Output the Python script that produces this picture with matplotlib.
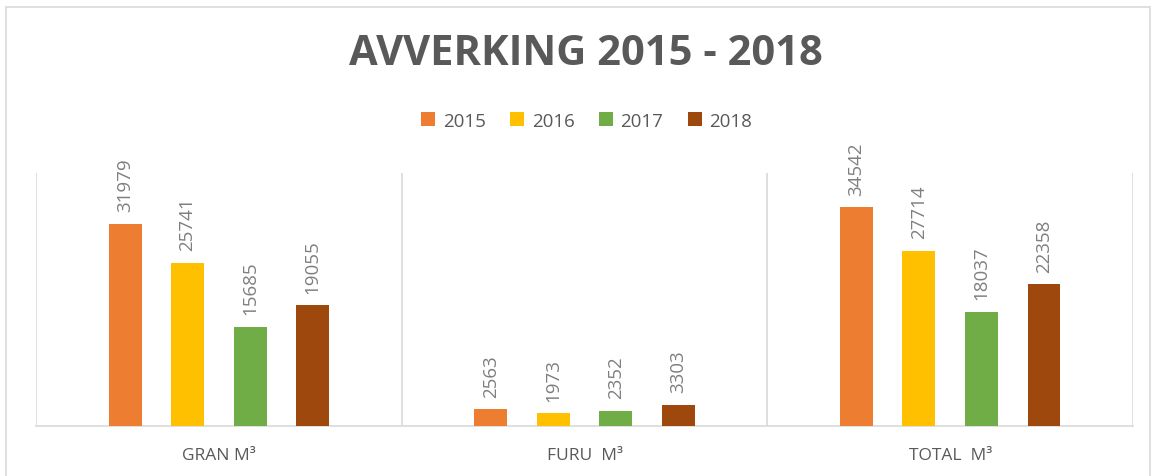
import numpy as np
import matplotlib.pyplot as plt
from matplotlib.patches import Rectangle

# --- data ---
categories = ["GRAN M³", "FURU  M³", "TOTAL  M³"]
years = ["2015", "2016", "2017", "2018"]
vals_2015 = [31979, 2563, 34542]
vals_2016 = [25741, 1973, 27714]
vals_2017 = [15685, 2352, 18037]
vals_2018 = [19055, 3303, 22358]
series = [vals_2015, vals_2016, vals_2017, vals_2018]
colors = ["#ED7D31", "#FFC000", "#70AD47", "#9E480E"]

plt.rcParams['font.family'] = ['Open Sans', 'DejaVu Sans']
GRAY = "#595959"

fig = plt.figure(figsize=(11.55, 4.77), dpi=100)
ax = fig.add_axes([0.0312, 0.1055, 0.9498, 0.530])

x = np.arange(len(categories))
width = 0.09
pitch = 0.171
for i, (vals, col, yr) in enumerate(zip(series, colors, years)):
    pos = x + (i - 1.5) * pitch
    bars = ax.bar(pos, vals, width, color=col, label=yr, zorder=3)
    for b, v in zip(bars, vals):
        ax.annotate(str(v), (b.get_x() + b.get_width() / 2, v),
                    xytext=(0, 9), textcoords="offset points",
                    rotation=90, ha="center", va="bottom",
                    fontsize=13.5, color="#7F7F7F")

ax.set_xlim(-0.5, 2.5)
ax.set_ylim(0, 40000)
ax.set_yticks([])
ax.set_xticks(x)
ax.set_xticklabels(categories, fontsize=12.5, color=GRAY)
ax.tick_params(axis="x", length=0, pad=15)
ax.set_xticks([-0.5, 0.5, 1.5, 2.5], minor=True)
ax.tick_params(axis="x", which="minor", length=0)
ax.grid(axis="x", which="minor", color="#D9D9D9", linewidth=1.2, zorder=0)
for s in ["top", "left", "right"]:
    ax.spines[s].set_visible(False)
ax.spines["bottom"].set_color("#D9D9D9")
ax.spines["bottom"].set_linewidth(1.2)

fig.text(0.507, 0.885, "AVVERKING 2015 - 2018", ha="center", va="center",
         fontsize=30, fontweight="bold", color=GRAY)

ax.legend(loc="center", bbox_to_anchor=(0.508, 0.745), bbox_transform=fig.transFigure,
          ncol=4, frameon=False, fontsize=13.5, handlelength=0.75, handleheight=0.75,
          handletextpad=0.4, columnspacing=1.3, labelcolor=GRAY)

# outer chart frame
fig.patches.append(Rectangle((6 / 1155, -0.05), 1144 / 1155, 1 - 8 / 477 + 0.05,
                             transform=fig.transFigure, fill=False,
                             edgecolor="#D9D9D9", linewidth=1.2))

fig.savefig("out.png", dpi=100)
